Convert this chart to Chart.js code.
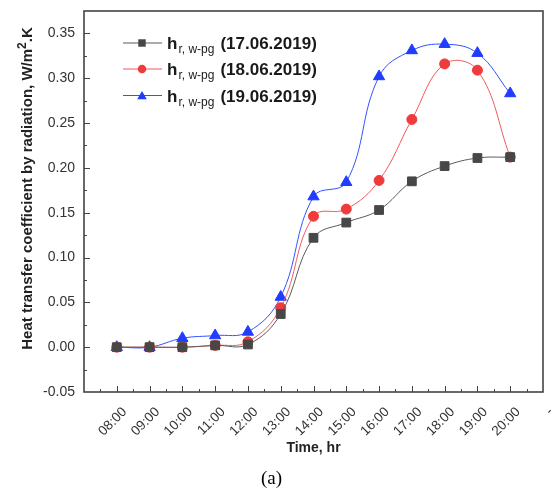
<!DOCTYPE html>
<html>
<head>
<meta charset="utf-8">
<script src="https://cdn.jsdelivr.net/npm/chart.js@4.4.1/dist/chart.umd.min.js"></script>
<style>
  html, body { margin: 0; padding: 0; background: #ffffff; }
  #wrap { width: 559px; height: 495px; }
</style>
</head>
<body>
<div id="wrap"><canvas id="c" width="559" height="495"></canvas></div>
<script>
// Hour of day for each measurement
const hours = [8, 9, 10, 11, 12, 13, 14, 15, 16, 17, 18, 19, 20];
const timeLabels = ['08:00', '09:00', '10:00', '11:00', '12:00', '13:00', '14:00',
                    '15:00', '16:00', '17:00', '18:00', '19:00', '20:00'];

// Radiative heat transfer coefficient, W/m2.K
const h17 = [0.000, 0.000, 0.000, 0.002, 0.003, 0.037, 0.122, 0.139, 0.153, 0.185, 0.202, 0.211, 0.212];
const h18 = [0.000, 0.000, 0.000, 0.002, 0.006, 0.044, 0.146, 0.154, 0.186, 0.254, 0.316, 0.309, 0.212];
const h19 = [0.000, 0.000, 0.010, 0.013, 0.017, 0.056, 0.168, 0.184, 0.302, 0.331, 0.338, 0.328, 0.283];

const seriesDates = ['(17.06.2019)', '(18.06.2019)', '(19.06.2019)'];
const yTickValues = [-0.05, 0.00, 0.05, 0.10, 0.15, 0.20, 0.25, 0.30, 0.35];
const yTitleParts = ['Heat transfer coefficient by radiation, W/m', '2', '.K'];

const SANS = '"Liberation Sans", Arial, sans-serif';
const styles = [
  { line: '#5a5a5a', fill: '#474747', shape: 'rect', radius: 6.2 },
  { line: '#f25a5a', fill: '#ef3b3b', shape: 'circle', radius: 5 },
  { line: '#3352ff', fill: '#1f3cff', shape: 'triangle', radius: 6.5 }
];

function toPoints(vals) {
  return hours.map((h, i) => ({ x: h, y: vals[i] }));
}

function makeSet(vals, s) {
  return {
    data: toPoints(vals),
    borderColor: s.line,
    borderWidth: 1,
    backgroundColor: s.fill,
    pointBackgroundColor: s.fill,
    pointBorderColor: s.fill,
    pointBorderWidth: 1,
    pointStyle: s.shape,
    pointRadius: s.radius,
    tension: 0.4,
    fill: false
  };
}

function drawMarker(ctx, shape, r, x, y, color) {
  ctx.save();
  ctx.fillStyle = color;
  ctx.beginPath();
  if (shape === 'rect') {
    const s = r * Math.SQRT1_2;
    ctx.rect(x - s, y - s, 2 * s, 2 * s);
  } else if (shape === 'circle') {
    ctx.arc(x, y, r, 0, Math.PI * 2);
  } else {
    for (let k = 0; k < 3; k++) {
      const a = k * 2 * Math.PI / 3;
      const px = x + Math.sin(a) * r, py = y - Math.cos(a) * r;
      if (k === 0) ctx.moveTo(px, py); else ctx.lineTo(px, py);
    }
    ctx.closePath();
  }
  ctx.fill();
  ctx.restore();
}

// Box frame with inward major/minor ticks, drawn under the data
const framePlugin = {
  id: 'frameTicks',
  beforeDatasetsDraw(chart) {
    const { ctx, chartArea: a, scales: { x, y } } = chart;
    ctx.save();
    ctx.strokeStyle = '#444';
    ctx.lineWidth = 1;
    ctx.beginPath();
    // y ticks every 0.025, majors every 0.05
    for (let k = 1; k < 17; k++) {
      const v = -0.05 + k * 0.025;
      const py = Math.round(y.getPixelForValue(v)) + 0.5;
      const len = (k % 2 === 0) ? 6 : 3;
      ctx.moveTo(a.left, py); ctx.lineTo(a.left + len, py);
    }
    // x ticks every half hour, majors on the hour
    for (let k = 1; k < 28; k++) {
      const v = 7 + k * 0.5;
      const px = Math.round(x.getPixelForValue(v)) + 0.5;
      const len = (k % 2 === 0) ? 6 : 3;
      ctx.moveTo(px, a.bottom); ctx.lineTo(px, a.bottom - len);
    }
    ctx.stroke();
    ctx.lineWidth = 1.6;
    ctx.strokeRect(a.left, a.top, a.right - a.left, a.bottom - a.top);
    ctx.restore();
  }
};

// Vertical axis title with a superscript exponent
const yTitlePlugin = {
  id: 'yTitle',
  afterDraw(chart) {
    const { ctx, chartArea: a } = chart;
    const main = 'bold 15px ' + SANS, sup = 'bold 12px ' + SANS;
    ctx.save();
    ctx.font = main;
    const w0 = ctx.measureText(yTitlePlugin.parts[0]).width;
    const w2 = ctx.measureText(yTitlePlugin.parts[2]).width;
    ctx.font = sup;
    const w1 = ctx.measureText(yTitlePlugin.parts[1]).width;
    const total = w0 + w1 + w2;
    const cy = (a.top + a.bottom) / 2 - 13;
    ctx.translate(32, cy);
    ctx.rotate(-Math.PI / 2);
    ctx.fillStyle = '#222';
    ctx.textAlign = 'left';
    ctx.textBaseline = 'alphabetic';
    let tx = -total / 2;
    ctx.font = main;
    ctx.fillText(yTitlePlugin.parts[0], tx, 0);
    tx += w0;
    ctx.font = sup;
    ctx.fillText(yTitlePlugin.parts[1], tx, -6);
    tx += w1;
    ctx.font = main;
    ctx.fillText(yTitlePlugin.parts[2], tx, 0);
    ctx.restore();
  },
  parts: yTitleParts
};

// Legend with subscripted symbol names
const legendPlugin = {
  id: 'subLegend',
  afterDatasetsDraw(chart) {
    const { ctx, chartArea: a } = chart;
    const rows = [43, 69, 95.5];
    ctx.save();
    rows.forEach((ry, i) => {
      const s = styles[i];
      const y0 = a.top + ry - 11;
      ctx.strokeStyle = s.line;
      ctx.lineWidth = 1.2;
      ctx.beginPath();
      ctx.moveTo(a.left + 39, y0); ctx.lineTo(a.left + 78, y0);
      ctx.stroke();
      drawMarker(ctx, s.shape, s.radius * 0.85, a.left + 58, y0 + (s.shape === 'triangle' ? 1 : 0), s.fill);
      ctx.fillStyle = '#1a1a1a';
      ctx.textBaseline = 'alphabetic';
      ctx.textAlign = 'left';
      let tx = a.left + 83;
      const base = y0 + 6;
      ctx.font = 'bold 17px ' + SANS;
      ctx.fillText('h', tx, base);
      tx += ctx.measureText('h').width + 1;
      ctx.font = '12px ' + SANS;
      ctx.fillText('r, w-pg', tx, base + 4);
      tx += ctx.measureText('r, w-pg').width + 6;
      ctx.font = 'bold 17px ' + SANS;
      ctx.fillText(seriesDates[i], tx, base);
    });
    ctx.restore();
  }
};

const chart = new Chart(document.getElementById('c'), {
  type: 'line',
  data: {
    datasets: [makeSet(h17, styles[0]), makeSet(h18, styles[1]), makeSet(h19, styles[2])]
  },
  options: {
    responsive: false,
    animation: false,
    devicePixelRatio: 1,
    layout: { padding: { left: 0, right: 16, top: 11, bottom: 0 } },
    plugins: {
      legend: { display: false },
      tooltip: { enabled: false },
      title: {
        display: true,
        position: 'bottom',
        text: '(a)',
        color: '#000',
        font: { family: '"Liberation Serif", "Times New Roman", serif', size: 19, weight: 'normal', lineHeight: 1.2 },
        padding: { top: 0, bottom: 5 }
      }
    },
    scales: {
      x: {
        type: 'linear',
        min: 7,
        max: 21,
        grid: { display: false, drawTicks: false },
        border: { display: false },
        afterFit(scale) {
          scale.height = 75.2;
          scale.paddingLeft = 0; scale.paddingRight = 0;
        },
        afterBuildTicks(scale) {
          scale.ticks = [];
          for (let h = 7; h <= 21; h++) scale.ticks.push({ value: h });
        },
        ticks: {
          autoSkip: false,
          minRotation: 45,
          maxRotation: 45,
          padding: 12,
          labelOffset: 8,
          color: '#333',
          font: { family: SANS, size: 13.5 },
          callback(v) {
            const i = hours.indexOf(v);
            if (i >= 0) return timeLabels[i];
            return v === 21 ? '-' : '';
          }
        },
        title: {
          display: true,
          text: 'Time, hr',
          color: '#222',
          font: { family: SANS, size: 14, weight: 'bold', lineHeight: 1.2 },
          padding: { top: 0, bottom: 11 }
        }
      },
      y: {
        min: -0.05,
        max: 0.375,
        grid: { display: false, drawTicks: false },
        border: { display: false },
        afterFit(scale) {
          scale.width = 84;
          scale.paddingTop = 0; scale.paddingBottom = 0;
        },
        afterBuildTicks(scale) {
          scale.ticks = yTickValues.map(v => ({ value: v }));
        },
        ticks: {
          padding: 9,
          color: '#333',
          font: { family: SANS, size: 14 },
          callback(v) { return v.toFixed(2); }
        }
      }
    }
  },
  plugins: [framePlugin, legendPlugin, yTitlePlugin]
});
</script>
</body>
</html>
